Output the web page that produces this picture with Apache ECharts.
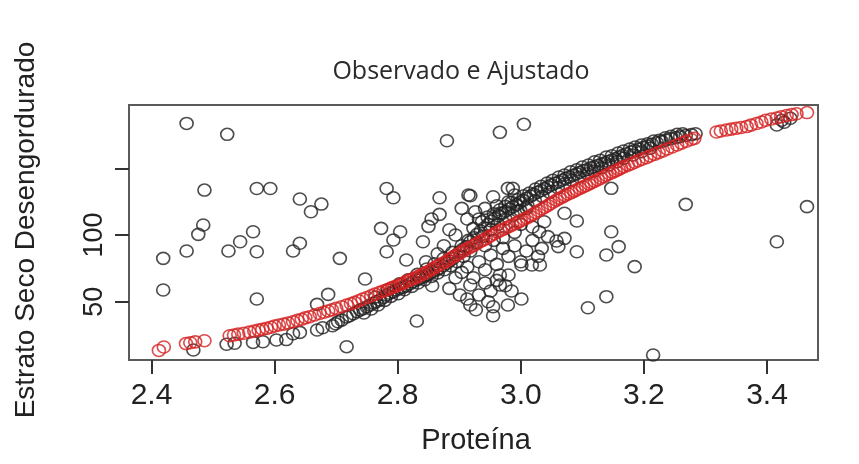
<!DOCTYPE html>
<html><head><meta charset="utf-8">
<script src="https://cdn.jsdelivr.net/npm/echarts@6/dist/echarts.min.js"></script>
<style>html,body{margin:0;padding:0;background:#fff}#c{width:859px;height:464px}</style>
</head><body><div id="c"></div>
<script>
const titleText = 'Observado e Ajustado';
const xTitle = 'Proteína';
const yTitle = 'Estrato Seco Desengordurado';
const xTicks = [2.4, 2.6, 2.8, 3.0, 3.2, 3.4];
const yTicks = [50, 100, 150];
const yTickLabels = [50, 100];

// observed values (black circles): band near the fitted curve
const observedBand = [
[2.468,13.8],[2.522,18.1],[2.535,18.8],[2.565,19.5],[2.581,20.0],[2.603,21.3],[2.619,21.6],[2.630,26.0],[2.641,27.0],[2.669,28.8],[2.678,30.5],[2.694,32.0],[2.699,33.5],[2.703,35.0],[2.709,36.2],[2.717,38.5],[2.722,39.5],[2.728,41.0],[2.734,42.5],[2.739,43.8],[2.744,44.8],[2.750,46.0],[2.755,47.5],[2.761,48.8],[2.765,50.0],[2.771,51.3],[2.777,53.2],[2.782,55.0],[2.787,56.3],[2.793,57.5],[2.798,58.8],[2.804,60.0],[2.809,60.8],[2.814,61.8],[2.820,63.5],[2.825,65.0],[2.831,66.3],[2.836,67.5],[2.841,68.8],[2.847,70.0],[2.852,71.3],[2.857,72.5],[2.863,73.8],[2.868,75.0],[2.874,77.0],[2.880,78.8],[2.884,80.5],[2.890,82.5],[2.895,85.0],[2.901,87.5],[2.906,89.5],[2.912,91.3],
[2.745,41.5],[2.757,44.5],[2.768,47.5],[2.779,51.0],[2.789,54.0],[2.801,56.0],[2.811,59.0],[2.823,61.5],[2.833,64.0],[2.844,66.5],[2.855,69.0],[2.865,71.5],[2.876,74.0],[2.886,77.0],[2.897,80.0],[2.907,84.0],[2.918,88.0],
[2.764,53.5],[2.784,59.0],[2.803,63.5],[2.817,66.5],[2.832,70.5],[2.847,74.5],[2.860,78.5],[2.875,82.5],[2.889,87.0],[2.904,92.0],[2.915,96.0],
[2.918,95.0],[2.924,98.0],[2.929,100.5],[2.935,103.0],[2.941,105.5],[2.947,108.0],[2.952,110.5],[2.958,112.5],[2.964,114.5],[2.970,116.3],[2.975,117.8],[2.981,119.5],[2.987,121.2],[2.993,122.8],[2.998,124.4],[3.004,126.0],[3.010,127.6],[3.016,129.2],[3.021,130.6],[3.027,132.0],[3.033,133.4],[3.039,134.8],[3.044,136.2],[3.050,137.6],[3.056,138.8],[3.062,140.0],[3.068,141.2],[3.073,142.4],[3.079,143.6],[3.085,144.8],[3.091,146.0],[3.096,147.1],[3.102,148.2],[3.108,149.2],[3.114,150.2],[3.119,151.2],[3.125,152.2],[3.131,153.2],[3.137,154.2],[3.142,155.2],[3.148,156.3],[3.154,157.4],[3.160,158.5],[3.165,159.6],[3.172,161.0],[3.179,162.2],[3.185,163.4],[3.192,164.6],[3.199,165.7],[3.206,166.8],[3.213,168.0],[3.221,169.2],[3.229,170.2],[3.236,171.2],[3.244,172.2],[3.252,173.0],[3.259,173.8],[3.268,174.6],[3.277,175.3],[3.284,176.0],
[2.927,94.0],[2.939,99.0],[2.951,104.0],[2.963,108.0],[2.975,112.0],[2.987,115.0],[2.999,118.5],[3.011,122.0],[3.023,125.5],[3.035,129.0],[3.047,132.0],[3.060,135.5],[3.071,138.5],[3.083,141.0],[3.095,143.5],[3.108,146.0],[3.119,148.0],[3.131,150.5],[3.143,152.5],[3.156,155.0],[3.167,157.5],[3.182,160.0],[3.196,162.5],[3.210,165.0],
[2.937,110.0],[2.956,116.0],[2.975,121.5],[2.995,126.5],[3.014,131.5],[3.033,136.5],[3.052,141.0],[3.071,145.0],[3.091,149.0],[3.110,152.5],[3.129,156.0],[3.148,159.5],[3.167,163.0],[3.186,166.0],[3.206,168.5],[3.225,171.0],[3.244,174.0],[3.263,176.0],
[2.946,113.5],[2.966,119.0],[2.985,124.5],[3.005,129.5],[3.024,134.5],[3.043,139.0],[3.062,143.5],[3.081,147.5],[3.100,151.0],[3.120,155.0],[3.139,158.5],[3.158,161.5],[3.177,164.5],[3.196,167.5],[3.216,170.5],[3.235,173.0],[3.254,175.5],
[3.416,182.5],[3.424,186.0],[3.428,184.5],[3.438,187.5]
];

// observed values (black circles): scattered points
const observedScatter = [
[2.457,183.7],[2.523,175.5],[2.880,170.7],[2.486,133.7],[2.571,134.9],[2.593,134.9],[2.641,127.0],[2.659,117.5],[2.676,123.2],[2.782,134.9],[2.793,128.0],[2.868,128.0],[2.915,130.0],
[2.484,107.5],[2.476,100.5],[2.565,102.5],[2.544,95.0],[2.630,88.0],[2.641,93.8],[2.525,88.0],[2.571,87.5],[2.457,88.0],[2.419,82.5],[2.706,82.5],[2.773,105.0],[2.804,102.5],[2.793,96.3],[2.782,87.5],[2.841,95.0],[2.855,112.0],[2.868,115.5],[2.850,106.5],
[2.419,58.8],[2.571,52.0],[2.687,55.5],[2.669,48.0],[2.747,67.0],[2.831,35.5],[2.717,16.3],[2.814,81.3],
[2.966,177.0],[3.005,183.0],[2.918,129.5],[2.955,128.7],[2.979,135.0],[2.987,135.0],[2.926,117.5],[2.966,116.3],[3.147,135.0],[3.071,116.3],[3.091,110.5],[3.030,102.5],[3.044,98.8],[3.058,95.5],[3.071,97.5],[3.034,90.0],[3.061,91.3],[3.091,87.5],[3.147,102.5],[3.159,91.3],[3.139,85.0],[3.185,76.3],[3.268,123.0],[3.465,121.3],[3.416,95.0],[3.139,53.8],[3.109,45.5],[3.215,10.0],
[3.001,52.0],[2.979,47.5],[2.955,46.2],[2.955,39.5],[2.918,47.5],[2.918,62.5],[2.966,62.5],[2.901,55.0],[3.001,77.5],[3.018,77.5],[3.031,77.5],
[2.884,60.0],[2.894,68.0],[2.904,72.0],[2.913,76.0],[2.923,68.0],[2.932,80.0],[2.942,74.0],[2.951,85.0],[2.961,78.0],[2.971,90.0],[2.980,84.0],[2.990,92.0],[3.000,80.0],[2.980,70.0],[2.951,58.0],[2.932,55.0],[2.913,52.0],[2.942,64.0],[3.009,88.0],[3.019,96.0],[3.028,84.0],[3.038,110.0],[3.019,106.0],[2.971,98.0],[2.990,102.0],[3.000,108.0],[2.923,105.0],[2.932,112.0],[2.942,120.0],[2.961,122.0],[2.980,125.0],[2.990,130.0],[2.913,112.0],[2.894,100.0],[2.884,104.0],[2.875,92.0],[2.865,86.0],[2.856,62.0],[2.846,80.0],[2.904,120.0],[2.942,92.0],[2.956,96.0],[2.995,118.0],[3.009,120.0],[2.966,70.0],[2.975,62.0],[2.961,66.0],[2.947,50.0],[2.927,44.0],[2.985,58.0]
];

// fitted values (red circles)
const fitted = [
[2.412,13.5],[2.420,16.0],[2.456,18.6],[2.463,19.2],[2.471,19.9],[2.486,20.8],
[2.527,24.5],[2.534,25.1],[2.541,25.7],[2.550,26.4],[2.559,27.2],[2.567,28.0],[2.574,28.7],[2.580,29.3],[2.587,30.0],[2.594,30.9],[2.600,31.8],[2.607,32.5],[2.615,33.2],[2.622,34.1],[2.630,35.0],[2.637,36.0],[2.644,36.9],[2.650,37.9],[2.657,38.8],[2.665,40.0],[2.673,41.2],[2.680,42.1],[2.687,43.0],[2.693,44.0],[2.700,45.0],[2.709,46.3],[2.717,47.5],[2.724,48.5],[2.730,49.5],[2.737,50.7],[2.743,52.0],[2.750,53.2],[2.757,54.5],[2.763,55.7],[2.771,57.0],[2.777,58.0],
[2.782,58.8],[2.787,59.7],[2.791,60.6],[2.795,61.3],[2.800,62.2],[2.805,63.1],[2.809,63.9],[2.813,65.0],[2.818,66.0],[2.822,66.8],[2.827,67.6],[2.832,68.5],[2.836,69.6],[2.841,70.8],[2.845,71.7],[2.850,72.9],[2.855,74.2],[2.858,75.1],[2.863,76.3],[2.868,77.5],[2.873,78.8],[2.878,80.0],[2.882,81.3],[2.886,82.4],[2.891,83.8],[2.896,85.0],[2.901,86.3],[2.905,87.7],[2.909,88.8],[2.914,90.0],[2.919,91.1],[2.924,92.3],[2.928,93.5],[2.933,94.8],[2.938,96.0],[2.943,97.2],[2.948,98.5],[2.952,99.8],[2.957,101.0],[2.962,102.2],[2.967,103.4],[2.972,104.3],[2.976,105.3],[2.981,106.4],[2.986,107.5],[2.991,108.6],[2.996,109.7],[3.000,110.8],[3.005,111.8],[3.010,112.8],
[3.015,114.2],[3.020,115.5],[3.024,116.9],[3.029,118.2],[3.034,119.5],[3.039,120.8],[3.044,122.2],[3.048,123.5],[3.053,124.8],[3.058,126.2],[3.063,127.5],[3.068,128.6],[3.072,129.7],[3.077,130.8],[3.082,131.8],[3.087,132.9],[3.091,134.0],[3.096,135.0],[3.101,136.1],[3.106,137.1],[3.111,138.2],[3.115,139.3],[3.120,140.4],[3.125,141.5],[3.130,142.6],[3.135,143.7],[3.139,144.8],[3.144,145.9],[3.149,147.0],[3.154,148.1],[3.159,149.2],[3.163,150.3],[3.168,151.3],[3.174,152.4],[3.180,153.5],[3.185,154.6],[3.191,155.7],[3.197,156.8],[3.204,158.0],[3.210,159.2],[3.217,160.5],[3.224,161.8],[3.231,163.1],[3.238,164.5],[3.246,166.0],[3.254,167.5],[3.261,168.9],[3.269,170.3],[3.277,171.6],[3.282,172.5],
[3.318,177.2],[3.325,178.0],[3.334,178.7],[3.342,179.4],[3.350,180.0],[3.358,180.6],[3.367,181.3],[3.374,182.4],[3.383,183.6],[3.391,184.8],[3.398,186.0],[3.407,187.0],[3.416,187.8],[3.423,188.7],[3.432,189.6],[3.440,190.3],[3.448,190.9],[3.465,191.8]
];

const chart = echarts.init(document.getElementById('c'), null, {renderer: 'canvas'});
const fontTick = '"Liberation Sans", Arial, sans-serif';
chart.setOption({
  animation: false,
  backgroundColor: '#ffffff',
  grid: {left: 129, right: 41, top: 105, bottom: 104, show: true, borderColor: '#5a5a5a', borderWidth: 2, backgroundColor: 'transparent'},
  xAxis: {
    type: 'value', min: 2.3634, max: 3.4829,
    axisLine: {show: false}, splitLine: {show: false},
    axisTick: {show: true, length: 14, customValues: xTicks, lineStyle: {color: '#333', width: 2}},
    axisLabel: {customValues: xTicks, margin: 21, fontSize: 30, fontFamily: fontTick, color: '#222', formatter: v => Number(v).toFixed(1)}
  },
  yAxis: {
    type: 'value', min: 6.3, max: 197.5,
    axisLine: {show: false}, splitLine: {show: false},
    axisTick: {show: true, length: 14, customValues: yTicks, lineStyle: {color: '#333', width: 2}},
    axisLabel: {customValues: yTickLabels, rotate: 90, margin: 21, fontSize: 27, fontFamily: fontTick, color: '#222'}
  },
  graphic: [
    {type: 'text', x: 461, y: 72, style: {text: titleText, fontFamily: '"Open Sans"', fontSize: 25, fill: '#2b2b2b', align: 'center', verticalAlign: 'middle'}},
    {type: 'text', x: 476, y: 441, style: {text: xTitle, fontFamily: fontTick, fontSize: 29, fill: '#222', align: 'center', verticalAlign: 'middle'}},
    {type: 'text', x: 26, y: 230, rotation: Math.PI / 2, style: {text: yTitle, fontFamily: fontTick, fontSize: 28, fill: '#222', align: 'center', verticalAlign: 'middle'}}
  ],
  series: [
    {type: 'scatter', name: 'observado', data: observedBand.concat(observedScatter), symbol: 'circle', symbolSize: [13, 12], silent: true, z: 2,
     itemStyle: {color: 'rgba(0,0,0,0)', borderColor: '#222', borderWidth: 1.6}},
    {type: 'scatter', name: 'ajustado', data: fitted, symbol: 'circle', symbolSize: [13, 12], silent: true, z: 3,
     itemStyle: {color: 'rgba(0,0,0,0)', borderColor: '#d42020', borderWidth: 1.6}}
  ]
});
</script>
</body></html>
